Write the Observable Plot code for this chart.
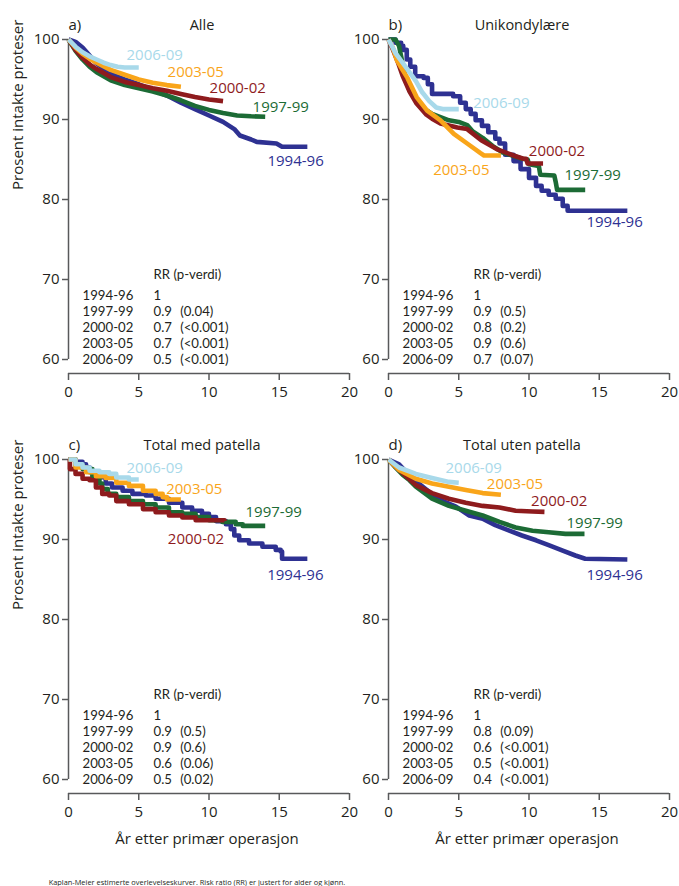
<!DOCTYPE html>
<html>
<head>
<meta charset="utf-8">
<script src="https://cdn.jsdelivr.net/npm/d3@7"></script>
<script src="https://cdn.jsdelivr.net/npm/@observablehq/plot@0.6"></script>
<style>
  body { margin: 0; background: #fff; }
  #chart { position: relative; width: 679px; height: 886px; font-family: "Open Sans", sans-serif; color: #231f20; overflow: hidden; }
  .panel { position: absolute; }
  #caption { position: absolute; left: 0; width: 394px; top: 877px; text-align: center; font-size: 7.4px; color: #231f20; white-space: nowrap; }
</style>
</head>
<body>
<div id="chart"></div>
<script>
// ---------- categories / ticks ----------
const periods = ["1994-96", "1997-99", "2000-02", "2003-05", "2006-09"];
const colors = ["#2e3192", "#1c6b35", "#8e1b1d", "#f9a51a", "#a8d9ea"];
const xTicks = [0, 5, 10, 15, 20];
const yTicks = [60, 70, 80, 90, 100];
const panelLetters = ["a)", "b)", "c)", "d)"];
const panelTitles = ["Alle", "Unikondylære", "Total med patella", "Total uten patella"];
const yLabel = "Prosent intakte proteser";
const xLabel = "År etter primær operasjon";
const rrHeader = "RR (p-verdi)";

// ---------- a) Alle : [år, prosent] ----------
const alle9496 = [[0,100],[0.5,99.7],[1,99.0],[1.5,98.0],[2,97.0],[3,95.7],[4,95.0],[5,94.4],[6,93.7],[7,93.0],[8,92.1],[9,91.3],[10,90.5],[11,89.7],[11.8,88.8],[12.2,88.0],[13,87.5],[13.4,87.2],[14.8,87.0],[15.2,86.6],[17,86.6]];
const alle9799 = [[0,100],[0.5,98.6],[1,97.5],[1.5,96.6],[2,95.9],[3,94.9],[4,94.3],[5,93.9],[6,93.5],[7,93.0],[8,92.4],[9,91.7],[10,91.2],[11,90.8],[12,90.5],[13,90.4],[14,90.35]];
const alle0002 = [[0,100],[0.5,98.7],[1,97.7],[1.5,96.9],[2,96.3],[3,95.3],[4,94.7],[5,94.3],[6,93.9],[7,93.6],[8,93.2],[9,92.8],[10,92.5],[11,92.3]];
const alle0305 = [[0,100],[0.5,99.0],[1,98.2],[1.5,97.6],[2,97.1],[3,96.2],[4,95.6],[5,95.0],[6,94.6],[7,94.3],[8,94.1]];
const alle0609 = [[0,100],[0.5,99.1],[1,98.4],[1.5,97.9],[2,97.5],[2.5,97.1],[3,96.8],[3.5,96.6],[4,96.5],[5,96.5]];
const alleRR = ["1", "0.9", "0.7", "0.7", "0.5"];
const alleP = ["", "(0.04)", "(<0.001)", "(<0.001)", "(<0.001)"];

// ---------- b) Unikondylære ----------
const uni9496 = [[0,100],[0.5,99.6],[0.9,99.2],[1.05,98.7],[1.3,97.5],[1.55,96.6],[1.9,95.4],[2.5,95.2],[2.8,94.4],[3.1,93.2],[4.6,92.9],[5.1,92.1],[5.5,91.3],[5.85,90.7],[6.2,89.9],[6.65,89.2],[7.1,88.4],[7.6,87.6],[7.9,87.0],[8.3,85.6],[8.9,84.8],[9.4,83.8],[10.0,82.7],[10.5,81.7],[10.9,81.1],[11.4,80.6],[11.9,80.1],[12.4,79.2],[12.75,78.6],[17.0,78.6]];
const uni9799 = [[0,100],[0.5,100],[0.75,99.2],[1.0,97.0],[1.25,95.0],[1.5,93.6],[1.95,92.5],[2.4,91.5],[3.1,90.7],[4.3,89.9],[5.0,89.7],[5.6,89.3],[6.0,88.5],[6.7,87.7],[7.4,86.7],[8.1,85.9],[8.8,85.5],[9.5,85.1],[9.9,85.0],[10.0,84.4],[10.7,84.2],[10.8,83.1],[11.8,83.0],[11.9,82.2],[12.0,81.2],[14.0,81.2]];
const uni0002 = [[0,100],[0.3,98.8],[0.7,97.0],[1.0,95.5],[1.5,93.5],[2.0,92.0],[2.7,90.6],[3.1,90.1],[3.7,89.5],[4.9,89.0],[5.6,88.8],[6.6,87.4],[7.7,86.3],[8.9,85.5],[9.6,85.1],[9.8,85.1],[9.9,84.5],[11.0,84.5]];
const uni0305 = [[0,100],[0.3,99.0],[0.6,97.4],[1.0,96.2],[1.35,95.2],[2.0,92.8],[2.75,91.1],[3.7,89.9],[4.65,88.2],[5.6,87.0],[6.55,85.8],[6.8,85.5],[8.0,85.5]];
const uni0609 = [[0,100],[0.5,98.3],[1.0,97.1],[1.5,95.9],[1.95,94.8],[2.4,93.4],[2.9,92.3],[3.4,91.5],[3.85,91.3],[5.0,91.3]];
const uniRR = ["1", "0.9", "0.8", "0.9", "0.7"];
const uniP = ["", "(0.5)", "(0.2)", "(0.6)", "(0.07)"];

// ---------- c) Total med patella ----------
const med9496 = [[0,100],[0.5,99.7],[1.0,99.4],[1.25,99.0],[1.5,98.4],[1.95,97.8],[2.65,97.0],[3.1,96.5],[3.85,96.1],[4.55,95.7],[5.5,95.5],[6.2,95.1],[7.15,94.6],[8.1,94.0],[8.8,93.6],[9.5,93.2],[10.0,92.8],[10.5,92.3],[11.2,91.9],[11.55,91.3],[11.8,90.5],[12.15,89.9],[12.85,89.5],[13.8,89.1],[14.75,88.7],[15.1,88.5],[15.2,87.6],[17.0,87.6]];
const med9799 = [[0,100],[0.5,99.3],[1.0,98.8],[1.7,97.8],[2.2,97.0],[2.4,96.3],[2.8,95.7],[3.4,95.3],[4.3,94.8],[5.3,94.4],[6.2,94.0],[7.15,93.4],[8.1,93.2],[9.05,92.8],[10.0,92.4],[10.95,92.2],[11.9,91.9],[12.4,91.7],[14.0,91.7]];
const med0002 = [[0,100],[0.1,98.8],[0.5,98.2],[1.0,97.6],[1.5,97.4],[1.95,96.5],[2.4,95.7],[2.9,95.5],[3.4,94.8],[4.3,94.4],[5.3,93.8],[6.2,93.4],[7.15,93.0],[8.1,92.75],[9.05,92.4],[10.0,92.4],[11.1,92.3]];
const med0305 = [[0,100],[0.5,99.0],[1.25,98.4],[1.95,97.9],[2.65,97.7],[3.4,97.1],[4.3,96.7],[5.3,96.1],[6.2,95.7],[6.7,95.3],[7.0,95.0],[8.0,95.0]];
const med0609 = [[0,100],[0.5,99.4],[1.0,99.0],[1.5,98.6],[2.2,98.4],[2.9,98.2],[3.4,97.75],[4.3,97.5],[5.0,97.5]];
const medRR = ["1", "0.9", "0.9", "0.6", "0.5"];
const medP = ["", "(0.5)", "(0.6)", "(0.06)", "(0.02)"];

// ---------- d) Total uten patella ----------
const uten9496 = [[0,100],[0.75,99.4],[1.5,98.0],[2,97.2],[3,95.8],[4,94.7],[4.8,94.1],[5.75,93.0],[6.7,92.6],[7.6,91.8],[8.6,91.1],[9.5,90.5],[10.5,89.9],[11.4,89.3],[12.4,88.6],[13.3,88.0],[14,87.6],[17,87.5]];
const uten9799 = [[0,100],[0.5,99.0],[1.0,98.1],[1.5,97.4],[1.95,96.6],[3.1,95.1],[4.3,94.2],[5.5,93.6],[6.7,93.0],[7.9,92.2],[9.05,91.5],[10.25,91.1],[11.4,90.9],[12.6,90.7],[13.95,90.7]];
const uten0002 = [[0,100],[0.5,99.1],[1.0,98.3],[1.95,96.8],[3.1,95.8],[4.3,95.1],[5.5,94.6],[6.7,94.2],[7.9,94.0],[9.05,93.6],[10.25,93.5],[11.1,93.45]];
const uten0305 = [[0,100],[0.75,98.7],[1.95,97.6],[3.1,97.0],[4.3,96.6],[5.5,96.2],[6.7,95.8],[8.0,95.6]];
const uten0609 = [[0,100],[0.75,99.0],[1.95,98.2],[3.1,97.7],[4.3,97.2],[5.0,97.1]];
const utenRR = ["1", "0.8", "0.6", "0.5", "0.4"];
const utenP = ["", "(0.09)", "(<0.001)", "(<0.001)", "(<0.001)"];

// ---------- layout (not data) ----------
const W = 359, H = 440, ML = 68, MR = 10, MT = 39, MB = 67;
const yMin = 58.25;               // x-axis line sits a little below 60
const axisColor = "#58595b";
const textColor = "#231f20";
const tableCols = { period: 1.0, rr: 6.05, p: 7.95 };
const tableHeaderY = 70.6, tableTopY = 68, tableStep = 2;   // rows 2 y-units (16px) apart
const tableFont = 13.2;
const tableFamily = "Lato, 'Open Sans', sans-serif";      // compact line box so rows do not collide
const yLabelCenter = 81.2;
const L = "linear", S = "step-after";

const panels = [
  { left: 0,   top: 0,   series: [alle9496, alle9799, alle0002, alle0305, alle0609], rr: alleRR, p: alleP, curves: [L, L, L, L, L],
    labels: [[14.16, 84.75], [13.1, 91.6], [10.04, 93.96], [7.05, 95.9], [4.13, 98.06]], yl: true, xl: false },
  { left: 320, top: 0,   series: [uni9496, uni9799, uni0002, uni0305, uni0609], rr: uniRR, p: uniP, curves: [S, L, L, L, L],
    labels: [[14.09, 77.2], [12.53, 83.1], [9.99, 86.0], [3.18, 83.7], [6.03, 92.09]], yl: false, xl: false },
  { left: 0,   top: 420, series: [med9496, med9799, med0002, med0305, med0609], rr: medRR, p: medP, curves: [S, S, S, S, S],
    labels: [[14.14, 85.5], [12.6, 93.4], [7.07, 90.1], [6.95, 96.3], [4.13, 98.9]], yl: true, xl: true },
  { left: 320, top: 420, series: [uten9496, uten9799, uten0002, uten0305, uten0609], rr: utenRR, p: utenP, curves: [L, L, L, L, L],
    labels: [[14.09, 85.5], [12.67, 92.1], [10.15, 94.8], [7.0, 96.96], [4.06, 98.9]], yl: false, xl: true }
];

function tableColumn(values, x) {
  return Plot.text(values, {
    x, y: (d, i) => tableTopY - i * tableStep, text: d => d, filter: d => d !== "",
    textAnchor: "start", fontSize: tableFont, fontFamily: tableFamily, fill: textColor
  });
}

const chart = document.getElementById("chart");

panels.forEach((p, k) => {
  const marks = [];
  // axes
  marks.push(Plot.ruleX([0], { y1: d3.min(yTicks), y2: d3.max(yTicks), stroke: axisColor, strokeWidth: 1.5 }));
  marks.push(Plot.ruleY([yMin], { x1: d3.min(xTicks), x2: d3.max(xTicks), stroke: axisColor, strokeWidth: 1.5 }));
  marks.push(Plot.axisY({ ticks: yTicks, tickSize: 6, tickPadding: 3, fontSize: 15, label: null, stroke: axisColor, strokeWidth: 1.5, fill: textColor }));
  marks.push(Plot.axisX({ ticks: xTicks, tickSize: 7, tickPadding: 6, fontSize: 15, label: null, stroke: axisColor, strokeWidth: 1.5, fill: textColor }));
  // curves
  p.series.forEach((s, i) => {
    marks.push(Plot.line(s, { x: d => d[0], y: d => d[1], stroke: colors[i], strokeWidth: 4.6, curve: p.curves[i], strokeLinejoin: "round", strokeLinecap: "butt" }));
  });
  // series labels
  periods.forEach((per, i) => {
    marks.push(Plot.text([per], { x: p.labels[i][0], y: p.labels[i][1], text: d => d, fill: colors[i], textAnchor: "start", fontSize: 15 }));
  });
  // RR table
  marks.push(Plot.text([rrHeader], { x: tableCols.rr, y: tableHeaderY, text: d => d, textAnchor: "start", fontSize: tableFont, fontFamily: tableFamily, fill: textColor }));
  marks.push(tableColumn(periods, tableCols.period));
  marks.push(tableColumn(p.rr, tableCols.rr));
  marks.push(tableColumn(p.p, tableCols.p));
  // titles
  marks.push(Plot.text([panelLetters[k]], { frameAnchor: "top-left", dy: -20, text: d => d, textAnchor: "start", fontSize: 15, fill: textColor }));
  marks.push(Plot.text([panelTitles[k]], { frameAnchor: "top", dx: -7, dy: -20, text: d => d, fontSize: 14.5, fill: textColor }));
  if (p.yl) marks.push(Plot.text([yLabel], { frameAnchor: "left", y: yLabelCenter, dx: -50, rotate: -90, text: d => d, fontSize: 15, fill: textColor }));
  if (p.xl) marks.push(Plot.text([xLabel], { frameAnchor: "bottom", dx: -2, dy: 50, text: d => d, fontSize: 15, fill: textColor }));

  const svg = Plot.plot({
    width: W, height: H,
    marginLeft: ML, marginRight: MR, marginTop: MT, marginBottom: MB,
    style: { background: "transparent", fontFamily: "'Open Sans', sans-serif", overflow: "visible", color: textColor },
    x: { domain: [0, 20] },
    y: { domain: [yMin, 100] },
    marks
  });
  const div = document.createElement("div");
  div.className = "panel";
  div.style.left = p.left + "px";
  div.style.top = p.top + "px";
  div.appendChild(svg);
  chart.appendChild(div);
});

const cap = document.createElement("div");
cap.id = "caption";
cap.textContent = "Kaplan-Meier estimerte overlevelseskurver. Risk ratio (RR) er justert for alder og kjønn.";
chart.appendChild(cap);
</script>
</body>
</html>
